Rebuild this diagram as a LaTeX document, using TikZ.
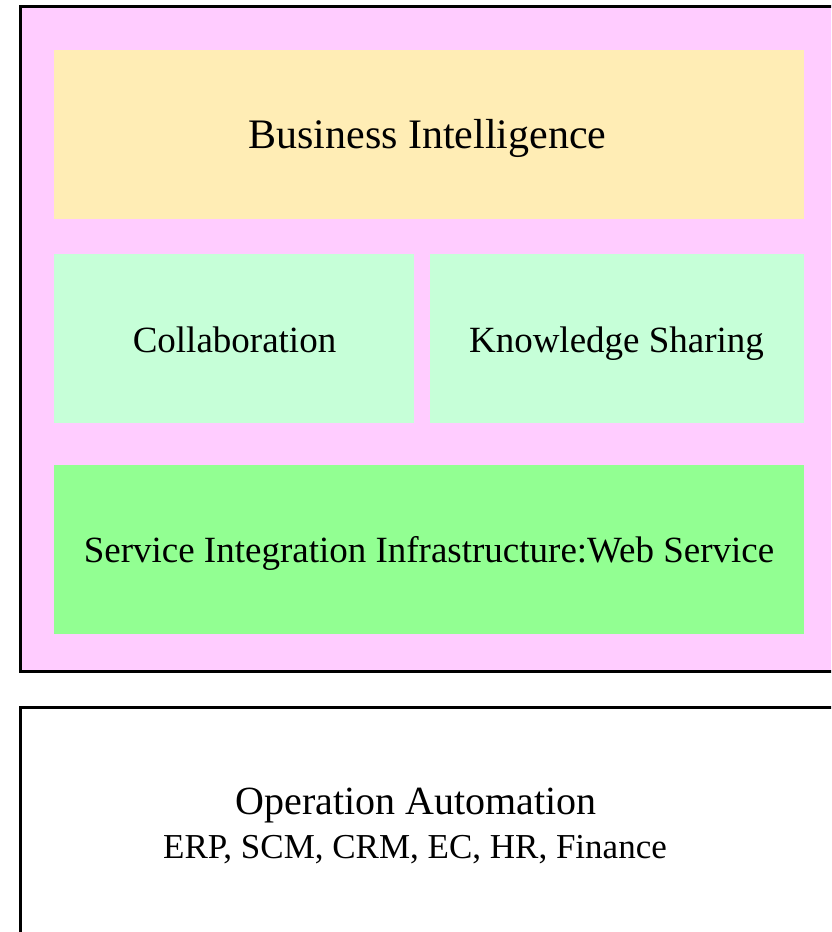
\documentclass[tikz,border=0pt]{standalone}
\usepackage{fontspec}
\setmainfont{Liberation Serif}
\definecolor{pinkbg}{RGB}{255,204,255}
\definecolor{yellowbox}{RGB}{255,237,181}
\definecolor{lightgreen}{RGB}{198,255,216}
\definecolor{greenbox}{RGB}{146,255,146}
\tikzset{
  frame/.style={draw=black, line width=3pt},
  bigtxt/.style={font=\fontsize{42}{48}\selectfont, anchor=base, inner sep=0pt},
  optxt/.style={font=\fontsize{40}{48}\selectfont, anchor=base, inner sep=0pt},
  midtxt/.style={font=\fontsize{37}{44}\selectfont, anchor=base, inner sep=0pt},
  smalltxt/.style={font=\fontsize{35}{42}\selectfont, anchor=base, inner sep=0pt}
}
\begin{document}
\begin{tikzpicture}[x=1pt,y=-1pt]
\useasboundingbox (0,0) rectangle (831,932);
\begin{scope}
\clip (0,0) rectangle (831,932);
% outer pink frame
\filldraw[frame, fill=pinkbg] (20,6) rectangle (860,671);
% lower white frame
\draw[frame, fill=white] (20,707) rectangle (860,990);
\end{scope}
% panels
\fill[yellowbox] (54,50) rectangle (804,219);
\fill[lightgreen] (54,254) rectangle (414,423);
\fill[lightgreen] (430,254) rectangle (804,423);
\fill[greenbox] (54,465) rectangle (804,634);
% texts
\node[bigtxt] (bi) at (427.5,148) {Business Intelligence};
\node[midtxt] (co) at (234.5,352) {Collaboration};
\node[midtxt] (ks) at (616.5,352) {Knowledge Sharing};
\node[midtxt] (si) at (429,562) {Service Integration Infrastructure:Web Service};
\node[optxt] (oa) at (416,814) {Operation Automation};
\node[smalltxt] (erp) at (415,858) {ERP, SCM, CRM, EC, HR, Finance};
\end{tikzpicture}
\end{document}
